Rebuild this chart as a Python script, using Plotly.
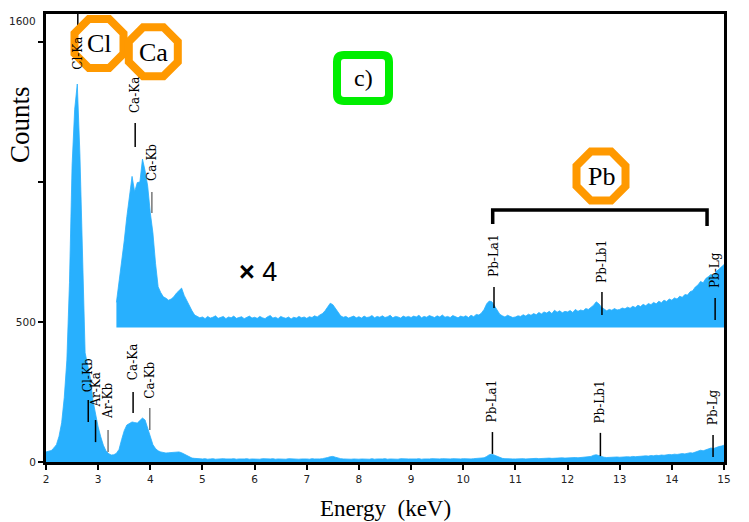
import math
import plotly.graph_objects as go

# ---------------- data ----------------
E_STEP = 0.05
MAIN_START = 2.00          # keV
INSET_START = 3.35         # keV
INSET_BASE = 480           # counts offset of the x4 inset spectrum

main_counts = [
    36, 38, 41, 50, 62, 92, 140, 230, 364, 640, 1060, 1260, 1350, 1100, 700, 390, 345, 300, 220, 170,   # 2.00-2.95
    125, 90, 60, 40, 30, 25, 26, 31, 45, 80, 112, 132, 138, 143, 141, 139, 148, 157, 150, 118,          # 3.00-3.95
    85, 62, 48, 40, 36, 34, 32, 33, 34, 33, 35, 36, 33, 28, 24, 18, 14, 13, 12, 12,                     # 4.00-4.95
    11, 12, 10, 11, 12, 10, 11, 10, 12, 11, 10, 11, 12, 10, 11, 10, 11, 12, 10, 11,                     # 5
    10, 11, 10, 12, 11, 10, 11, 12, 10, 11, 10, 11, 10, 12, 11, 10, 11, 10, 11, 12,                     # 6
    11, 10, 12, 11, 10, 11, 12, 13, 16, 19, 20, 17, 14, 12, 11, 10, 11, 10, 11, 10,                     # 7
    10, 11, 10, 11, 10, 12, 10, 11, 10, 11, 12, 10, 11, 10, 11, 10, 12, 11, 10, 11,                     # 8
    11, 10, 11, 12, 10, 11, 10, 11, 12, 11, 10, 11, 12, 11, 10, 11, 12, 11, 12, 11,                     # 9
    12, 11, 12, 11, 12, 13, 12, 13, 15, 20, 26, 28, 24, 19, 15, 13, 12, 11, 12, 11,                     # 10
    11, 12, 11, 12, 11, 12, 13, 12, 13, 12, 13, 14, 13, 14, 13, 14, 15, 14, 15, 14,                     # 11
    15, 14, 15, 16, 15, 16, 17, 16, 18, 20, 24, 26, 23, 19, 17, 16, 17, 16, 17, 18,                     # 12
    17, 18, 17, 19, 18, 20, 19, 20, 21, 20, 22, 21, 23, 22, 24, 23, 25, 24, 26, 27,                     # 13
    26, 28, 27, 29, 30, 29, 31, 33, 32, 35, 37, 42, 40, 44, 46, 50, 48, 52, 55, 57,                     # 14
    60,                                                                                                 # 15.00
]

inset_counts = [
    570, 640, 710, 790, 876, 960, 1020, 965, 998, 1000, 1082, 1040, 985,                                # 3.35-3.95
    890, 818, 710, 626, 605, 590, 585, 578, 582, 590, 603, 612, 621, 595, 575, 555, 540, 525, 519, 515, # 4
    518, 512, 520, 514, 517, 522, 513, 516, 520, 512, 518, 515, 521, 513, 517, 519, 512, 516, 521, 514, # 5
    517, 513, 520, 515, 512, 519, 523, 514, 517, 512, 520, 516, 513, 518, 511, 517, 514, 520, 515, 518, # 6
    513, 519, 516, 522, 518, 525, 530, 540, 556, 567, 562, 548, 533, 522, 517, 520, 514, 518, 521, 515, # 7
    519, 514, 521, 516, 518, 523, 515, 520, 517, 522, 516, 519, 524, 515, 520, 518, 514, 521, 517, 520, # 8
    516, 521, 518, 524, 515, 520, 517, 523, 519, 516, 522, 518, 525, 517, 520, 516, 523, 519, 515, 521, # 9
    518, 522, 516, 524, 519, 527, 525, 532, 545, 565, 575, 572, 556, 540, 528, 522, 518, 524, 519, 516, # 10
    518, 522, 520, 526, 521, 528, 524, 530, 526, 534, 529, 536, 532, 538, 530, 542, 535, 540, 533, 538, # 11
    536, 541, 534, 545, 538, 543, 540, 548, 545, 552, 560, 572, 565, 553, 546, 540, 545, 542, 548, 543, # 12
    545, 550, 547, 553, 549, 556, 552, 560, 555, 563, 558, 566, 562, 570, 565, 574, 569, 578, 573, 582, # 13
    578, 586, 582, 592, 588, 598, 596, 608, 612, 625, 632, 645, 640, 655, 662, 670, 665, 680, 688, 695, # 14
    705,                                                                                                # 15.00
]

x_ticks = list(range(2, 16))
y_ticks = [0, 500, 1000, 1500]
y_ticktext = ["0", "500", "", ""]

# peak markers: (label, energy keV, line y0, line y1, label centre y, colour)
main_markers = [
    ("Cl-Kb", 2.81, 143, 221, 311, "black"),
    ("Ar-Ka", 2.95, 71, 150, 257, "black"),
    ("Ar-Kb", 3.19, 36, 114, 218, "#777777"),
    ("Ca-Ka", 3.67, 175, 250, 357, "black"),
    ("Ca-Kb", 3.99, 114, 193, 293, "#777777"),
    ("Pb-La1", 10.56, 29, 107, 218, "black"),
    ("Pb-Lb1", 12.63, 21, 104, 214, "black"),
    ("Pb-Lg", 14.79, 18, 96, 196, "black"),
]
inset_markers = [
    ("Cl-Ka", 2.61, 1536, 1600, 1461, "black"),
    ("Ca-Ka", 3.71, 1125, 1211, 1311, "black"),
    ("Ca-Kb", 4.03, 889, 964, 1071, "#777777"),
    ("Pb-La1", 10.59, 550, 625, 736, "black"),
    ("Pb-Lb1", 12.66, 525, 607, 718, "black"),
    ("Pb-Lg", 14.83, 507, 586, 686, "black"),
]

# ---------------- geometry / style ----------------
W, H = 749, 522
ML, MR, MT, MB = 46, 25, 14, 60
PW, PH = W - ML - MR, H - MT - MB
BLUE = "#28B0FE"
ORANGE = "#FF9900"


def px(xp):
    return (xp - ML) / PW


def py(yp):
    return (MT + PH - yp) / PH


def octagon(cx, cy, apothem):
    r = apothem / math.cos(math.radians(22.5))
    pts = []
    for k in range(8):
        a = math.radians(22.5 + 45 * k)
        pts.append((px(cx + r * math.cos(a)), py(cy + r * math.sin(a))))
    return "M " + " L ".join(f"{a:.5f},{b:.5f}" for a, b in pts) + " Z"


def rounded_rect(x0, y0, x1, y1, rad):
    p = [
        f"M {px(x0 + rad):.5f},{py(y0):.5f}",
        f"L {px(x1 - rad):.5f},{py(y0):.5f}",
        f"Q {px(x1):.5f},{py(y0):.5f} {px(x1):.5f},{py(y0 + rad):.5f}",
        f"L {px(x1):.5f},{py(y1 - rad):.5f}",
        f"Q {px(x1):.5f},{py(y1):.5f} {px(x1 - rad):.5f},{py(y1):.5f}",
        f"L {px(x0 + rad):.5f},{py(y1):.5f}",
        f"Q {px(x0):.5f},{py(y1):.5f} {px(x0):.5f},{py(y1 - rad):.5f}",
        f"L {px(x0):.5f},{py(y0 + rad):.5f}",
        f"Q {px(x0):.5f},{py(y0):.5f} {px(x0 + rad):.5f},{py(y0):.5f}",
        "Z",
    ]
    return " ".join(p)


main_x = [round(MAIN_START + i * E_STEP, 2) for i in range(len(main_counts))]
inset_x = [round(INSET_START + i * E_STEP, 2) for i in range(len(inset_counts))]

fig = go.Figure()
fig.add_trace(go.Scatter(x=main_x, y=main_counts, mode="lines",
                         line=dict(color=BLUE, width=0.8), fill="tozeroy",
                         fillcolor=BLUE, hoverinfo="skip", showlegend=False))
fig.add_trace(go.Scatter(x=inset_x, y=[INSET_BASE] * len(inset_x), mode="lines",
                         line=dict(color=BLUE, width=0), hoverinfo="skip",
                         showlegend=False))
fig.add_trace(go.Scatter(x=inset_x, y=inset_counts, mode="lines",
                         line=dict(color=BLUE, width=0.8), fill="tonexty",
                         fillcolor=BLUE, hoverinfo="skip", showlegend=False))

shapes = []
annotations = []
LABEL_FONT = dict(family="DejaVu Serif", size=12, color="black")
for lab, e, y0, y1, yc, col in main_markers + inset_markers:
    shapes.append(dict(type="line", xref="x", yref="y", x0=e, x1=e, y0=y0, y1=y1,
                       line=dict(color=col, width=1.5)))
    annotations.append(dict(x=e, y=yc, xref="x", yref="y", text=lab, textangle=-90,
                            showarrow=False, font=LABEL_FONT,
                            xanchor="center", yanchor="middle"))

# Pb bracket
shapes.append(dict(type="path", xref="x", yref="y",
                   path="M 10.565,850 L 10.565,900 L 14.675,900 L 14.675,843",
                   line=dict(color="black", width=3.5)))

# octagons
for cx, cy in [(99, 43.5), (153.3, 51.7), (601, 176)]:
    shapes.append(dict(type="path", xref="paper", yref="paper", layer="above",
                       path=octagon(cx, cy, 24.5), fillcolor="white",
                       line=dict(color=ORANGE, width=8)))
# green rounded box
shapes.append(dict(type="path", xref="paper", yref="paper", layer="above",
                   path=rounded_rect(337, 55, 389, 101, 7), fillcolor="white",
                   line=dict(color="#00EE00", width=8)))

SERIF = "Liberation Serif"
for txt, cx, cy, size in [("Cl", 99, 43.5, 26), ("Ca", 153.3, 52, 26), ("Pb", 601, 176, 26),
                          ("c)", 363, 78, 24)]:
    annotations.append(dict(x=px(cx), y=py(cy), xref="paper", yref="paper", text=txt,
                            showarrow=False, font=dict(family=SERIF, size=size, color="black"),
                            xanchor="center", yanchor="middle"))

annotations.append(dict(x=px(258), y=py(272), xref="paper", yref="paper", text="<b>×</b> 4",
                        showarrow=False,
                        font=dict(family="Liberation Sans", size=27, color="black"),
                        xanchor="center", yanchor="middle"))
annotations.append(dict(x=px(20), y=py(125), xref="paper", yref="paper", text="Counts",
                        textangle=-90, showarrow=False,
                        font=dict(family=SERIF, size=27, color="black"),
                        xanchor="center", yanchor="middle"))
annotations.append(dict(x=px(385), y=py(508), xref="paper", yref="paper",
                        text="Energy\u00a0 (keV)", showarrow=False,
                        font=dict(family=SERIF, size=23, color="black"),
                        xanchor="center", yanchor="middle"))
annotations.append(dict(x=px(38), y=py(21), xref="paper", yref="paper", text="1600",
                        showarrow=False,
                        font=dict(family="DejaVu Sans", size=10.5, color="#222222"),
                        xanchor="right", yanchor="middle"))

fig.update_layout(
    width=W, height=H,
    margin=dict(l=ML, r=MR, t=MT, b=MB, pad=0),
    paper_bgcolor="white", plot_bgcolor="white",
    shapes=shapes, annotations=annotations,
    xaxis=dict(range=[2, 15], tickmode="array", tickvals=x_ticks,
               ticktext=[str(t) for t in x_ticks],
               ticks="outside", ticklen=5, tickwidth=1.5, tickcolor="black",
               showline=True, linewidth=3, linecolor="black", mirror=True,
               showgrid=False, zeroline=False,
               tickfont=dict(family="DejaVu Sans", size=10.5, color="#222222")),
    yaxis=dict(range=[0, 1600], tickmode="array", tickvals=y_ticks, ticktext=y_ticktext,
               ticks="outside", ticklen=5, tickwidth=1.5, tickcolor="black",
               showline=True, linewidth=3, linecolor="black", mirror=True,
               showgrid=False, zeroline=False,
               tickfont=dict(family="DejaVu Sans", size=10.5, color="#222222")),
)

fig.write_html("out.html")
